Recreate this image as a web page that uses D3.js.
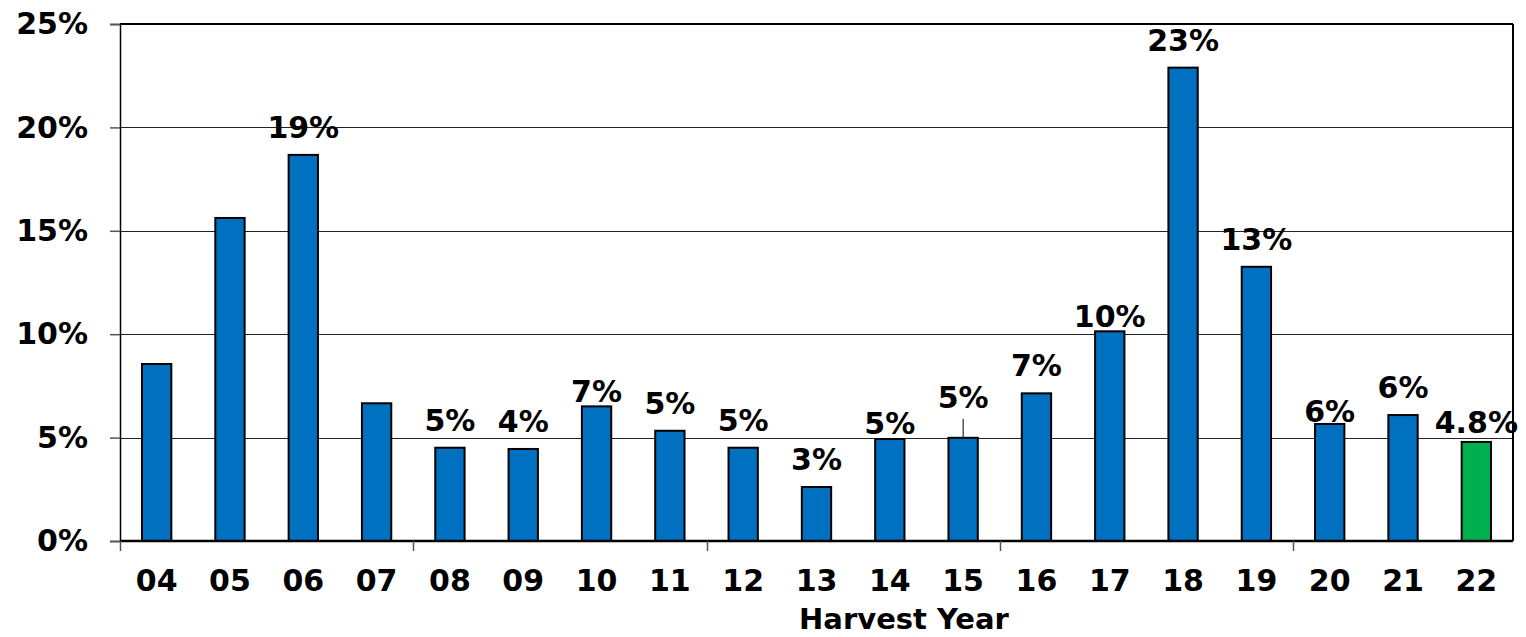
<!DOCTYPE html>
<html>
<head>
<meta charset="utf-8">
<script src="https://cdn.jsdelivr.net/npm/d3@7"></script>
<style>
  html, body { margin: 0; padding: 0; background: #fff; }
  svg { display: block; }
  text { font-family: "DejaVu Sans", Verdana, sans-serif; font-weight: bold; fill: #000; }
</style>
</head>
<body>
<svg id="chart" width="1526" height="637"></svg>
<script>
// ---- data ----
const categories = ["04","05","06","07","08","09","10","11","12","13","14","15","16","17","18","19","20","21","22"];
const values = [0.0856, 0.1562, 0.1867, 0.0666, 0.0451, 0.0445, 0.0651, 0.0533, 0.0451, 0.0261, 0.0493, 0.0499, 0.0714, 0.1014, 0.2289, 0.1326, 0.0566, 0.0609, 0.0479];
const dataLabels = ["", "", "19%", "", "5%", "4%", "7%", "5%", "5%", "3%", "5%", "5%", "7%", "10%", "23%", "13%", "6%", "6%", "4.8%"];
const highlightCategories = ["22"];
const yTickValues = [0, 0.05, 0.10, 0.15, 0.20, 0.25];
const xAxisTitle = "Harvest Year";

// ---- layout ----
const plotL = 120, plotR = 1513, plotT = 24, plotB = 541;
const fontSize = 30;
const svg = d3.select("#chart");

const x = d3.scaleBand().domain(categories).range([plotL, plotR]).paddingInner(0.6).paddingOuter(0.3);
const y = d3.scaleLinear().domain([0, 0.25]).range([plotB, plotT]);

// gridlines
svg.append("g")
  .selectAll("line")
  .data(yTickValues.filter(v => v > 0 && v < 0.25))
  .join("line")
  .attr("x1", plotL).attr("x2", plotR)
  .attr("y1", d => Math.round(y(d)) + 0.5).attr("y2", d => Math.round(y(d)) + 0.5)
  .attr("stroke", "#222").attr("stroke-width", 1);

// plot frame (top and right)
svg.append("line").attr("x1", plotL).attr("x2", plotR).attr("y1", plotT).attr("y2", plotT)
  .attr("stroke", "#000").attr("stroke-width", 2);
svg.append("line").attr("x1", plotR).attr("x2", plotR).attr("y1", plotT).attr("y2", plotB)
  .attr("stroke", "#000").attr("stroke-width", 2);

// y axis
const yAxis = d3.axisLeft(y).tickValues(yTickValues).tickFormat(d3.format(".0%")).tickSize(10).tickPadding(22);
const gy = svg.append("g").attr("transform", `translate(${plotL},0)`).call(yAxis);
gy.select(".domain").attr("stroke", "#000").attr("stroke-width", 1.5);
gy.selectAll(".tick line").attr("stroke", "#555").attr("stroke-width", 1.5);
gy.selectAll(".tick text").attr("font-size", fontSize).attr("font-family", "DejaVu Sans").attr("font-weight", "bold").attr("fill", "#000");

// bars
const barG = svg.append("g");
barG.selectAll("rect")
  .data(categories.map((c, i) => ({ c, v: values[i] })))
  .join("rect")
  .attr("x", d => x(d.c))
  .attr("width", x.bandwidth())
  .attr("y", d => y(d.v))
  .attr("height", d => y(0) - y(d.v))
  .attr("fill", d => highlightCategories.includes(d.c) ? "#00B050" : "#0070C0")
  .attr("stroke", "#000").attr("stroke-width", 2);

// x axis (bottom line + ticks every 4 categories)
svg.append("line").attr("x1", plotL).attr("x2", plotR).attr("y1", plotB).attr("y2", plotB)
  .attr("stroke", "#000").attr("stroke-width", 2.5);
const step = x.step();
const tickIdx = d3.range(0, categories.length, 4);
svg.append("g").selectAll("line").data(tickIdx).join("line")
  .attr("x1", i => Math.round(plotL + i * step) + 0.5).attr("x2", i => Math.round(plotL + i * step) + 0.5)
  .attr("y1", plotB).attr("y2", plotB + 10)
  .attr("stroke", "#555").attr("stroke-width", 1.5);

svg.append("g").selectAll("text").data(categories).join("text")
  .attr("x", d => x(d) + x.bandwidth() / 2)
  .attr("y", 591)
  .attr("text-anchor", "middle")
  .attr("font-size", fontSize)
  .text(d => d);

// axis title
svg.append("text").attr("x", 904).attr("y", 629).attr("text-anchor", "middle")
  .attr("font-size", 29).text(xAxisTitle);

// data labels (gaps between label baseline and bar top, adjusted per label as in original)
const gapOverride = { "10": 4.5, "14": 5, "15": 30, "17": 4, "20": 2, "22": 9 };
const lblG = svg.append("g");
lblG.selectAll("text")
  .data(categories.map((c, i) => ({ c, v: values[i], t: dataLabels[i] })).filter(d => d.t))
  .join("text")
  .attr("x", d => x(d.c) + x.bandwidth() / 2)
  .attr("y", d => y(d.v) - (gapOverride[d.c] !== undefined ? gapOverride[d.c] : 17))
  .attr("text-anchor", "middle")
  .attr("font-size", fontSize)
  .text(d => d.t);

// leader line for moved label
const leaderCat = "15";
const li = categories.indexOf(leaderCat);
svg.append("line")
  .attr("x1", x(leaderCat) + x.bandwidth() / 2).attr("x2", x(leaderCat) + x.bandwidth() / 2)
  .attr("y1", y(values[li]) - 19).attr("y2", y(values[li]))
  .attr("stroke", "#000").attr("stroke-width", 1);
</script>
</body>
</html>
